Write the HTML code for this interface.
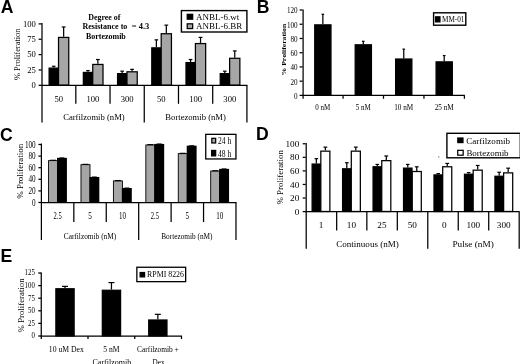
<!DOCTYPE html>
<html lang="en"><head><meta charset="utf-8"><title>Figure</title>
<style>
html,body{margin:0;padding:0;background:#fff;}
body{width:520px;height:364px;overflow:hidden;}
svg{display:block;}
</style></head>
<body>
<svg width="520" height="364" viewBox="0 0 520 364">
<rect x="0" y="0" width="520" height="364" fill="#fff"/>
<text x="0.8" y="12.6" font-family='"Liberation Sans",Arial,sans-serif' font-size="17.6" font-weight="bold">A</text>
<line x1="38.6" y1="85.3" x2="41.6" y2="85.3" stroke="#000" stroke-width="1.25"/>
<text x="35.8" y="88.14" font-family='"Liberation Serif","Times New Roman",serif' font-size="8.6" text-anchor="end">0</text>
<line x1="38.6" y1="69.95" x2="41.6" y2="69.95" stroke="#000" stroke-width="1.25"/>
<text x="35.8" y="72.79" font-family='"Liberation Serif","Times New Roman",serif' font-size="8.6" text-anchor="end">25</text>
<line x1="38.6" y1="54.6" x2="41.6" y2="54.6" stroke="#000" stroke-width="1.25"/>
<text x="35.8" y="57.44" font-family='"Liberation Serif","Times New Roman",serif' font-size="8.6" text-anchor="end">50</text>
<line x1="38.6" y1="39.25" x2="41.6" y2="39.25" stroke="#000" stroke-width="1.25"/>
<text x="35.8" y="42.09" font-family='"Liberation Serif","Times New Roman",serif' font-size="8.6" text-anchor="end">75</text>
<line x1="38.6" y1="23.9" x2="41.6" y2="23.9" stroke="#000" stroke-width="1.25"/>
<text x="35.8" y="26.74" font-family='"Liberation Serif","Times New Roman",serif' font-size="8.6" text-anchor="end">100</text>
<text x="0" y="2.64" transform="translate(17.6,54.3) rotate(-90)" font-family='"Liberation Serif","Times New Roman",serif' font-size="8" text-anchor="middle" textLength="51.5" lengthAdjust="spacingAndGlyphs">% Proliferation</text>
<rect x="49.12" y="68.12" width="9.15" height="17.06" fill="#000" stroke="#000" stroke-width="1.25"/>
<rect x="58.52" y="37.42" width="10.25" height="47.76" fill="#a6a6a6" stroke="#000" stroke-width="1.25"/>
<line x1="53.7" y1="66.27" x2="53.7" y2="67.49" stroke="#000" stroke-width="1.25"/>
<line x1="51.9" y1="66.27" x2="55.5" y2="66.27" stroke="#000" stroke-width="1.2"/>
<line x1="63.65" y1="26.97" x2="63.65" y2="36.79" stroke="#000" stroke-width="1.25"/>
<line x1="61.75" y1="26.97" x2="65.55" y2="26.97" stroke="#000" stroke-width="1.2"/>
<rect x="83.34" y="72.42" width="9.15" height="12.76" fill="#000" stroke="#000" stroke-width="1.25"/>
<rect x="92.75" y="64.44" width="10.25" height="20.74" fill="#a6a6a6" stroke="#000" stroke-width="1.25"/>
<line x1="87.92" y1="70.56" x2="87.92" y2="71.79" stroke="#000" stroke-width="1.25"/>
<line x1="86.12" y1="70.56" x2="89.72" y2="70.56" stroke="#000" stroke-width="1.2"/>
<line x1="97.87" y1="59.51" x2="97.87" y2="63.81" stroke="#000" stroke-width="1.25"/>
<line x1="95.97" y1="59.51" x2="99.77" y2="59.51" stroke="#000" stroke-width="1.2"/>
<rect x="117.56" y="73.64" width="9.15" height="11.53" fill="#000" stroke="#000" stroke-width="1.25"/>
<rect x="126.97" y="71.8" width="10.25" height="13.37" fill="#a6a6a6" stroke="#000" stroke-width="1.25"/>
<line x1="122.14" y1="71.18" x2="122.14" y2="73.02" stroke="#000" stroke-width="1.25"/>
<line x1="120.34" y1="71.18" x2="123.94" y2="71.18" stroke="#000" stroke-width="1.2"/>
<line x1="132.09" y1="69.34" x2="132.09" y2="71.18" stroke="#000" stroke-width="1.25"/>
<line x1="130.19" y1="69.34" x2="133.99" y2="69.34" stroke="#000" stroke-width="1.2"/>
<rect x="151.78" y="47.86" width="9.15" height="37.32" fill="#000" stroke="#000" stroke-width="1.25"/>
<rect x="161.19" y="33.73" width="10.25" height="51.44" fill="#a6a6a6" stroke="#000" stroke-width="1.25"/>
<line x1="156.36" y1="39.86" x2="156.36" y2="47.23" stroke="#000" stroke-width="1.25"/>
<line x1="154.56" y1="39.86" x2="158.16" y2="39.86" stroke="#000" stroke-width="1.2"/>
<line x1="166.31" y1="25.13" x2="166.31" y2="33.11" stroke="#000" stroke-width="1.25"/>
<line x1="164.41" y1="25.13" x2="168.21" y2="25.13" stroke="#000" stroke-width="1.2"/>
<rect x="186" y="62.59" width="9.15" height="22.58" fill="#000" stroke="#000" stroke-width="1.25"/>
<rect x="195.41" y="43.56" width="10.25" height="41.62" fill="#a6a6a6" stroke="#000" stroke-width="1.25"/>
<line x1="190.58" y1="59.51" x2="190.58" y2="61.97" stroke="#000" stroke-width="1.25"/>
<line x1="188.78" y1="59.51" x2="192.38" y2="59.51" stroke="#000" stroke-width="1.2"/>
<line x1="200.53" y1="37.41" x2="200.53" y2="42.93" stroke="#000" stroke-width="1.25"/>
<line x1="198.63" y1="37.41" x2="202.43" y2="37.41" stroke="#000" stroke-width="1.2"/>
<rect x="220.22" y="73.64" width="9.15" height="11.53" fill="#000" stroke="#000" stroke-width="1.25"/>
<rect x="229.62" y="58.3" width="10.25" height="26.88" fill="#a6a6a6" stroke="#000" stroke-width="1.25"/>
<line x1="224.8" y1="71.18" x2="224.8" y2="73.02" stroke="#000" stroke-width="1.25"/>
<line x1="223" y1="71.18" x2="226.6" y2="71.18" stroke="#000" stroke-width="1.2"/>
<line x1="234.75" y1="50.92" x2="234.75" y2="57.67" stroke="#000" stroke-width="1.25"/>
<line x1="232.85" y1="50.92" x2="236.65" y2="50.92" stroke="#000" stroke-width="1.2"/>
<line x1="42" y1="23" x2="42" y2="122.5" stroke="#000" stroke-width="1.25"/>
<line x1="41.1" y1="85.3" x2="247.4" y2="85.3" stroke="#000" stroke-width="1.25"/>
<line x1="75.82" y1="85.3" x2="75.82" y2="103.8" stroke="#000" stroke-width="1.25"/>
<line x1="110.04" y1="85.3" x2="110.04" y2="103.8" stroke="#000" stroke-width="1.25"/>
<line x1="144.26" y1="85.3" x2="144.26" y2="122.5" stroke="#000" stroke-width="1.25"/>
<line x1="178.48" y1="85.3" x2="178.48" y2="103.8" stroke="#000" stroke-width="1.25"/>
<line x1="212.7" y1="85.3" x2="212.7" y2="103.8" stroke="#000" stroke-width="1.25"/>
<line x1="246.92" y1="85.3" x2="246.92" y2="122.5" stroke="#000" stroke-width="1.25"/>
<text x="58.71" y="102.34" font-family='"Liberation Serif","Times New Roman",serif' font-size="8.6" text-anchor="middle">50</text>
<text x="92.93" y="102.34" font-family='"Liberation Serif","Times New Roman",serif' font-size="8.6" text-anchor="middle">100</text>
<text x="127.15" y="102.34" font-family='"Liberation Serif","Times New Roman",serif' font-size="8.6" text-anchor="middle">300</text>
<text x="161.37" y="102.34" font-family='"Liberation Serif","Times New Roman",serif' font-size="8.6" text-anchor="middle">50</text>
<text x="195.59" y="102.34" font-family='"Liberation Serif","Times New Roman",serif' font-size="8.6" text-anchor="middle">100</text>
<text x="229.81" y="102.34" font-family='"Liberation Serif","Times New Roman",serif' font-size="8.6" text-anchor="middle">300</text>
<text x="93.93" y="119.64" font-family='"Liberation Serif","Times New Roman",serif' font-size="8.6" text-anchor="middle" textLength="61.5" lengthAdjust="spacingAndGlyphs">Carfilzomib (nM)</text>
<text x="195.59" y="119.64" font-family='"Liberation Serif","Times New Roman",serif' font-size="8.6" text-anchor="middle" textLength="60.5" lengthAdjust="spacingAndGlyphs">Bortezomib (nM)</text>
<text x="104.35" y="20.17" font-family='"Liberation Serif","Times New Roman",serif' font-size="8.1" text-anchor="middle" textLength="32.2" lengthAdjust="spacingAndGlyphs" font-weight="bold">Degree of</text>
<text x="104.9" y="29.47" font-family='"Liberation Serif","Times New Roman",serif' font-size="8.1" text-anchor="middle" textLength="45" lengthAdjust="spacingAndGlyphs" font-weight="bold">Resistance to</text>
<text x="105.9" y="38.77" font-family='"Liberation Serif","Times New Roman",serif' font-size="8.1" text-anchor="middle" textLength="39.8" lengthAdjust="spacingAndGlyphs" font-weight="bold">Bortezomib</text>
<text x="140.5" y="29.47" font-family='"Liberation Serif","Times New Roman",serif' font-size="8.1" text-anchor="middle" textLength="17.5" lengthAdjust="spacingAndGlyphs" font-weight="bold">= 4.3</text>
<rect x="181.4" y="10.6" width="65.5" height="21.4" fill="#fff" stroke="#000" stroke-width="1.4"/>
<rect x="187.22" y="14.32" width="5.45" height="4.85" fill="#000" stroke="#000" stroke-width="1.25"/>
<rect x="187.22" y="23.82" width="5.45" height="4.75" fill="#a6a6a6" stroke="#000" stroke-width="1.25"/>
<text x="195.9" y="19.8" font-family='"Liberation Serif","Times New Roman",serif' font-size="9.1" text-anchor="start" textLength="43.3" lengthAdjust="spacingAndGlyphs">ANBL-6.wt</text>
<text x="195.9" y="29.3" font-family='"Liberation Serif","Times New Roman",serif' font-size="9.1" text-anchor="start" textLength="46.3" lengthAdjust="spacingAndGlyphs">ANBL-6.BR</text>
<text x="256.7" y="12.6" font-family='"Liberation Sans",Arial,sans-serif' font-size="17.6" font-weight="bold">B</text>
<line x1="299.6" y1="95.4" x2="302.6" y2="95.4" stroke="#000" stroke-width="1.25"/>
<text x="297.6" y="99.37" font-family='"Liberation Serif","Times New Roman",serif' font-size="9" text-anchor="end" textLength="3.55" lengthAdjust="spacingAndGlyphs">0</text>
<line x1="299.6" y1="81.17" x2="302.6" y2="81.17" stroke="#000" stroke-width="1.25"/>
<text x="297.6" y="84.54" font-family='"Liberation Serif","Times New Roman",serif' font-size="9" text-anchor="end" textLength="7.1" lengthAdjust="spacingAndGlyphs">20</text>
<line x1="299.6" y1="66.93" x2="302.6" y2="66.93" stroke="#000" stroke-width="1.25"/>
<text x="297.6" y="70.3" font-family='"Liberation Serif","Times New Roman",serif' font-size="9" text-anchor="end" textLength="7.1" lengthAdjust="spacingAndGlyphs">40</text>
<line x1="299.6" y1="52.7" x2="302.6" y2="52.7" stroke="#000" stroke-width="1.25"/>
<text x="297.6" y="56.07" font-family='"Liberation Serif","Times New Roman",serif' font-size="9" text-anchor="end" textLength="7.1" lengthAdjust="spacingAndGlyphs">60</text>
<line x1="299.6" y1="38.47" x2="302.6" y2="38.47" stroke="#000" stroke-width="1.25"/>
<text x="297.6" y="41.84" font-family='"Liberation Serif","Times New Roman",serif' font-size="9" text-anchor="end" textLength="7.1" lengthAdjust="spacingAndGlyphs">80</text>
<line x1="299.6" y1="24.23" x2="302.6" y2="24.23" stroke="#000" stroke-width="1.25"/>
<text x="297.6" y="27.6" font-family='"Liberation Serif","Times New Roman",serif' font-size="9" text-anchor="end" textLength="10.65" lengthAdjust="spacingAndGlyphs">100</text>
<line x1="299.6" y1="10" x2="302.6" y2="10" stroke="#000" stroke-width="1.25"/>
<text x="297.6" y="13.37" font-family='"Liberation Serif","Times New Roman",serif' font-size="9" text-anchor="end" textLength="10.65" lengthAdjust="spacingAndGlyphs">120</text>
<text x="0" y="2.31" transform="translate(283.9,49.6) rotate(-90)" font-family='"Liberation Serif","Times New Roman",serif' font-size="7" text-anchor="middle" textLength="51.6" lengthAdjust="spacingAndGlyphs" font-weight="bold">% Proliferation</text>
<rect x="314.73" y="24.86" width="16.25" height="70.42" fill="#000" stroke="#000" stroke-width="1.25"/>
<line x1="322.85" y1="14.27" x2="322.85" y2="24.23" stroke="#000" stroke-width="1.25"/>
<line x1="321.55" y1="14.27" x2="324.15" y2="14.27" stroke="#000" stroke-width="1.2"/>
<rect x="355.18" y="44.79" width="16.25" height="50.49" fill="#000" stroke="#000" stroke-width="1.25"/>
<line x1="363.3" y1="41.31" x2="363.3" y2="44.16" stroke="#000" stroke-width="1.25"/>
<line x1="362" y1="41.31" x2="364.6" y2="41.31" stroke="#000" stroke-width="1.2"/>
<rect x="395.62" y="59.02" width="16.25" height="36.26" fill="#000" stroke="#000" stroke-width="1.25"/>
<line x1="403.75" y1="49.14" x2="403.75" y2="58.39" stroke="#000" stroke-width="1.25"/>
<line x1="402.45" y1="49.14" x2="405.05" y2="49.14" stroke="#000" stroke-width="1.2"/>
<rect x="436.08" y="61.87" width="16.25" height="33.41" fill="#000" stroke="#000" stroke-width="1.25"/>
<line x1="444.2" y1="55.55" x2="444.2" y2="61.24" stroke="#000" stroke-width="1.25"/>
<line x1="442.9" y1="55.55" x2="445.5" y2="55.55" stroke="#000" stroke-width="1.2"/>
<line x1="303.1" y1="9.5" x2="303.1" y2="98.7" stroke="#000" stroke-width="1.25"/>
<line x1="302.1" y1="95.4" x2="464.9" y2="95.4" stroke="#000" stroke-width="1.25"/>
<line x1="343.05" y1="95.4" x2="343.05" y2="98.8" stroke="#000" stroke-width="1.25"/>
<line x1="383.5" y1="95.4" x2="383.5" y2="98.8" stroke="#000" stroke-width="1.25"/>
<line x1="423.95" y1="95.4" x2="423.95" y2="98.8" stroke="#000" stroke-width="1.25"/>
<line x1="464.4" y1="95.4" x2="464.4" y2="98.8" stroke="#000" stroke-width="1.25"/>
<text x="322.83" y="109.77" font-family='"Liberation Serif","Times New Roman",serif' font-size="9" text-anchor="middle" textLength="15" lengthAdjust="spacingAndGlyphs">0 nM</text>
<text x="363.28" y="109.77" font-family='"Liberation Serif","Times New Roman",serif' font-size="9" text-anchor="middle" textLength="15" lengthAdjust="spacingAndGlyphs">5 nM</text>
<text x="403.73" y="109.77" font-family='"Liberation Serif","Times New Roman",serif' font-size="9" text-anchor="middle" textLength="19" lengthAdjust="spacingAndGlyphs">10 nM</text>
<text x="444.18" y="109.77" font-family='"Liberation Serif","Times New Roman",serif' font-size="9" text-anchor="middle" textLength="19" lengthAdjust="spacingAndGlyphs">25 nM</text>
<rect x="433.6" y="12.8" width="32.2" height="12.4" fill="#fff" stroke="#000" stroke-width="1.4"/>
<rect x="435.62" y="16.82" width="4.35" height="5.05" fill="#000" stroke="#000" stroke-width="1.25"/>
<text x="442" y="22.47" font-family='"Liberation Serif","Times New Roman",serif' font-size="9" text-anchor="start" textLength="22.5" lengthAdjust="spacingAndGlyphs">MM-01</text>
<text x="0" y="140.8" font-family='"Liberation Sans",Arial,sans-serif' font-size="17.6" font-weight="bold">C</text>
<line x1="38.4" y1="202.5" x2="41.4" y2="202.5" stroke="#000" stroke-width="1.25"/>
<text x="35.7" y="205.57" font-family='"Liberation Serif","Times New Roman",serif' font-size="9.3" text-anchor="end" textLength="3.6" lengthAdjust="spacingAndGlyphs">0</text>
<line x1="38.4" y1="190.9" x2="41.4" y2="190.9" stroke="#000" stroke-width="1.25"/>
<text x="35.7" y="193.97" font-family='"Liberation Serif","Times New Roman",serif' font-size="9.3" text-anchor="end" textLength="7.2" lengthAdjust="spacingAndGlyphs">20</text>
<line x1="38.4" y1="179.3" x2="41.4" y2="179.3" stroke="#000" stroke-width="1.25"/>
<text x="35.7" y="182.37" font-family='"Liberation Serif","Times New Roman",serif' font-size="9.3" text-anchor="end" textLength="7.2" lengthAdjust="spacingAndGlyphs">40</text>
<line x1="38.4" y1="167.7" x2="41.4" y2="167.7" stroke="#000" stroke-width="1.25"/>
<text x="35.7" y="170.77" font-family='"Liberation Serif","Times New Roman",serif' font-size="9.3" text-anchor="end" textLength="7.2" lengthAdjust="spacingAndGlyphs">60</text>
<line x1="38.4" y1="156.1" x2="41.4" y2="156.1" stroke="#000" stroke-width="1.25"/>
<text x="35.7" y="159.17" font-family='"Liberation Serif","Times New Roman",serif' font-size="9.3" text-anchor="end" textLength="7.2" lengthAdjust="spacingAndGlyphs">80</text>
<line x1="38.4" y1="144.5" x2="41.4" y2="144.5" stroke="#000" stroke-width="1.25"/>
<text x="35.7" y="147.57" font-family='"Liberation Serif","Times New Roman",serif' font-size="9.3" text-anchor="end" textLength="10.8" lengthAdjust="spacingAndGlyphs">100</text>
<text x="0" y="2.44" transform="translate(21,171.3) rotate(-90)" font-family='"Liberation Serif","Times New Roman",serif' font-size="7.4" text-anchor="middle" textLength="55" lengthAdjust="spacingAndGlyphs">% Proliferation</text>
<rect x="48.55" y="160.61" width="9" height="41.94" fill="#a6a6a6" stroke="#000" stroke-width="0.9"/>
<rect x="57.62" y="158.47" width="8.65" height="43.91" fill="#000" stroke="#000" stroke-width="1.25"/>
<line x1="50.1" y1="160.26" x2="56" y2="160.26" stroke="#000" stroke-width="1.1"/>
<line x1="59.5" y1="157.74" x2="64.4" y2="157.74" stroke="#000" stroke-width="0.8"/>
<rect x="80.98" y="164.67" width="9" height="37.88" fill="#a6a6a6" stroke="#000" stroke-width="0.9"/>
<rect x="90.06" y="177.6" width="8.65" height="24.77" fill="#000" stroke="#000" stroke-width="1.25"/>
<line x1="82.53" y1="164.32" x2="88.43" y2="164.32" stroke="#000" stroke-width="1.1"/>
<line x1="91.93" y1="176.88" x2="96.83" y2="176.88" stroke="#000" stroke-width="0.8"/>
<rect x="113.41" y="180.91" width="9" height="21.64" fill="#a6a6a6" stroke="#000" stroke-width="0.9"/>
<rect x="122.48" y="188.62" width="8.65" height="13.75" fill="#000" stroke="#000" stroke-width="1.25"/>
<line x1="114.96" y1="180.56" x2="120.86" y2="180.56" stroke="#000" stroke-width="1.1"/>
<line x1="124.36" y1="187.9" x2="129.26" y2="187.9" stroke="#000" stroke-width="0.8"/>
<rect x="145.84" y="144.95" width="9" height="57.6" fill="#a6a6a6" stroke="#000" stroke-width="0.9"/>
<rect x="154.91" y="144.55" width="8.65" height="57.83" fill="#000" stroke="#000" stroke-width="1.25"/>
<line x1="147.39" y1="144.6" x2="153.29" y2="144.6" stroke="#000" stroke-width="1.1"/>
<line x1="156.79" y1="143.82" x2="161.69" y2="143.82" stroke="#000" stroke-width="0.8"/>
<rect x="178.27" y="153.65" width="9" height="48.9" fill="#a6a6a6" stroke="#000" stroke-width="0.9"/>
<rect x="187.34" y="146.28" width="8.65" height="56.09" fill="#000" stroke="#000" stroke-width="1.25"/>
<line x1="179.82" y1="153.3" x2="185.72" y2="153.3" stroke="#000" stroke-width="1.1"/>
<line x1="189.22" y1="145.56" x2="194.12" y2="145.56" stroke="#000" stroke-width="0.8"/>
<rect x="210.7" y="171.05" width="9" height="31.5" fill="#a6a6a6" stroke="#000" stroke-width="0.9"/>
<rect x="219.78" y="169.49" width="8.65" height="32.89" fill="#000" stroke="#000" stroke-width="1.25"/>
<line x1="212.25" y1="170.7" x2="218.15" y2="170.7" stroke="#000" stroke-width="1.1"/>
<line x1="221.65" y1="168.76" x2="226.55" y2="168.76" stroke="#000" stroke-width="0.8"/>
<line x1="41.4" y1="143.5" x2="41.4" y2="240" stroke="#000" stroke-width="1.25"/>
<line x1="40.9" y1="202.5" x2="236.5" y2="202.5" stroke="#000" stroke-width="1.25"/>
<line x1="73.83" y1="202.5" x2="73.83" y2="222" stroke="#000" stroke-width="1.25"/>
<line x1="106.26" y1="202.5" x2="106.26" y2="222" stroke="#000" stroke-width="1.25"/>
<line x1="138.69" y1="202.5" x2="138.69" y2="240" stroke="#000" stroke-width="1.25"/>
<line x1="171.12" y1="202.5" x2="171.12" y2="222" stroke="#000" stroke-width="1.25"/>
<line x1="203.55" y1="202.5" x2="203.55" y2="222" stroke="#000" stroke-width="1.25"/>
<line x1="235.98" y1="202.5" x2="235.98" y2="240" stroke="#000" stroke-width="1.25"/>
<text x="57.61" y="219.37" font-family='"Liberation Serif","Times New Roman",serif' font-size="9.3" text-anchor="middle" textLength="8.2" lengthAdjust="spacingAndGlyphs">2.5</text>
<text x="90.04" y="219.37" font-family='"Liberation Serif","Times New Roman",serif' font-size="9.3" text-anchor="middle" textLength="3.6" lengthAdjust="spacingAndGlyphs">5</text>
<text x="122.47" y="219.37" font-family='"Liberation Serif","Times New Roman",serif' font-size="9.3" text-anchor="middle" textLength="7" lengthAdjust="spacingAndGlyphs">10</text>
<text x="154.91" y="219.37" font-family='"Liberation Serif","Times New Roman",serif' font-size="9.3" text-anchor="middle" textLength="8.2" lengthAdjust="spacingAndGlyphs">2.5</text>
<text x="187.34" y="219.37" font-family='"Liberation Serif","Times New Roman",serif' font-size="9.3" text-anchor="middle" textLength="3.6" lengthAdjust="spacingAndGlyphs">5</text>
<text x="219.77" y="219.37" font-family='"Liberation Serif","Times New Roman",serif' font-size="9.3" text-anchor="middle" textLength="7" lengthAdjust="spacingAndGlyphs">10</text>
<text x="90" y="238.54" font-family='"Liberation Serif","Times New Roman",serif' font-size="9.2" text-anchor="middle" textLength="52.5" lengthAdjust="spacingAndGlyphs">Carfilzomib (nM)</text>
<text x="186.9" y="238.54" font-family='"Liberation Serif","Times New Roman",serif' font-size="9.2" text-anchor="middle" textLength="51.3" lengthAdjust="spacingAndGlyphs">Bortezomib (nM)</text>
<rect x="205.75" y="134.35" width="30.2" height="24.6" fill="#fff" stroke="#000" stroke-width="1.3"/>
<rect x="211.82" y="138.32" width="3.85" height="4.65" fill="#a6a6a6" stroke="#000" stroke-width="1.25"/>
<rect x="211.62" y="150.43" width="4.05" height="5.45" fill="#000" stroke="#000" stroke-width="1.25"/>
<text x="218" y="143.87" font-family='"Liberation Serif","Times New Roman",serif' font-size="9.3" text-anchor="start" textLength="13.2" lengthAdjust="spacingAndGlyphs">24 h</text>
<text x="218" y="156.57" font-family='"Liberation Serif","Times New Roman",serif' font-size="9.3" text-anchor="start" textLength="13.2" lengthAdjust="spacingAndGlyphs">48 h</text>
<text x="256" y="140.4" font-family='"Liberation Sans",Arial,sans-serif' font-size="17.6" font-weight="bold">D</text>
<line x1="302.7" y1="211.6" x2="305.7" y2="211.6" stroke="#000" stroke-width="1.25"/>
<text x="299.3" y="214.64" font-family='"Liberation Serif","Times New Roman",serif' font-size="9.2" text-anchor="end">0</text>
<line x1="302.7" y1="198.03" x2="305.7" y2="198.03" stroke="#000" stroke-width="1.25"/>
<text x="299.3" y="201.07" font-family='"Liberation Serif","Times New Roman",serif' font-size="9.2" text-anchor="end">20</text>
<line x1="302.7" y1="184.46" x2="305.7" y2="184.46" stroke="#000" stroke-width="1.25"/>
<text x="299.3" y="187.5" font-family='"Liberation Serif","Times New Roman",serif' font-size="9.2" text-anchor="end">40</text>
<line x1="302.7" y1="170.89" x2="305.7" y2="170.89" stroke="#000" stroke-width="1.25"/>
<text x="299.3" y="173.93" font-family='"Liberation Serif","Times New Roman",serif' font-size="9.2" text-anchor="end">60</text>
<line x1="302.7" y1="157.32" x2="305.7" y2="157.32" stroke="#000" stroke-width="1.25"/>
<text x="299.3" y="160.36" font-family='"Liberation Serif","Times New Roman",serif' font-size="9.2" text-anchor="end">80</text>
<line x1="302.7" y1="143.75" x2="305.7" y2="143.75" stroke="#000" stroke-width="1.25"/>
<text x="299.3" y="146.79" font-family='"Liberation Serif","Times New Roman",serif' font-size="9.2" text-anchor="end">100</text>
<text x="0" y="2.97" transform="translate(279.8,177.3) rotate(-90)" font-family='"Liberation Serif","Times New Roman",serif' font-size="9" text-anchor="middle" textLength="54.5" lengthAdjust="spacingAndGlyphs">% Proliferation</text>
<rect x="312.12" y="164.05" width="8.45" height="47.42" fill="#000" stroke="#000" stroke-width="1.25"/>
<rect x="320.82" y="151.16" width="9.05" height="60.31" fill="#fff" stroke="#000" stroke-width="1.25"/>
<line x1="316.35" y1="158.68" x2="316.35" y2="163.43" stroke="#000" stroke-width="1.25"/>
<line x1="314.55" y1="158.68" x2="318.15" y2="158.68" stroke="#000" stroke-width="1.2"/>
<line x1="325.35" y1="147.14" x2="325.35" y2="150.53" stroke="#000" stroke-width="1.25"/>
<line x1="323.45" y1="147.14" x2="327.25" y2="147.14" stroke="#000" stroke-width="1.2"/>
<rect x="342.59" y="168.8" width="8.45" height="42.67" fill="#000" stroke="#000" stroke-width="1.25"/>
<rect x="351.29" y="151.16" width="9.05" height="60.31" fill="#fff" stroke="#000" stroke-width="1.25"/>
<line x1="346.82" y1="162.75" x2="346.82" y2="168.18" stroke="#000" stroke-width="1.25"/>
<line x1="345.02" y1="162.75" x2="348.62" y2="162.75" stroke="#000" stroke-width="1.2"/>
<line x1="355.82" y1="147.14" x2="355.82" y2="150.53" stroke="#000" stroke-width="1.25"/>
<line x1="353.92" y1="147.14" x2="357.72" y2="147.14" stroke="#000" stroke-width="1.2"/>
<rect x="373.06" y="166.77" width="8.45" height="44.71" fill="#000" stroke="#000" stroke-width="1.25"/>
<rect x="381.76" y="160.66" width="9.05" height="50.82" fill="#fff" stroke="#000" stroke-width="1.25"/>
<line x1="377.29" y1="164.44" x2="377.29" y2="166.14" stroke="#000" stroke-width="1.25"/>
<line x1="375.49" y1="164.44" x2="379.09" y2="164.44" stroke="#000" stroke-width="1.2"/>
<line x1="386.29" y1="155.96" x2="386.29" y2="160.03" stroke="#000" stroke-width="1.25"/>
<line x1="384.39" y1="155.96" x2="388.19" y2="155.96" stroke="#000" stroke-width="1.2"/>
<rect x="403.54" y="168.12" width="8.45" height="43.35" fill="#000" stroke="#000" stroke-width="1.25"/>
<rect x="412.24" y="171.51" width="9.05" height="39.96" fill="#fff" stroke="#000" stroke-width="1.25"/>
<line x1="407.76" y1="164.44" x2="407.76" y2="167.5" stroke="#000" stroke-width="1.25"/>
<line x1="405.96" y1="164.44" x2="409.56" y2="164.44" stroke="#000" stroke-width="1.2"/>
<line x1="416.76" y1="166.82" x2="416.76" y2="170.89" stroke="#000" stroke-width="1.25"/>
<line x1="414.86" y1="166.82" x2="418.66" y2="166.82" stroke="#000" stroke-width="1.2"/>
<rect x="434" y="174.91" width="8.45" height="36.57" fill="#000" stroke="#000" stroke-width="1.25"/>
<rect x="442.7" y="166.77" width="9.05" height="44.71" fill="#fff" stroke="#000" stroke-width="1.25"/>
<line x1="438.23" y1="173.6" x2="438.23" y2="174.28" stroke="#000" stroke-width="1.25"/>
<line x1="436.43" y1="173.6" x2="440.03" y2="173.6" stroke="#000" stroke-width="1.2"/>
<line x1="447.23" y1="163.43" x2="447.23" y2="166.14" stroke="#000" stroke-width="1.25"/>
<line x1="445.33" y1="163.43" x2="449.13" y2="163.43" stroke="#000" stroke-width="1.2"/>
<rect x="464.47" y="174.23" width="8.45" height="37.25" fill="#000" stroke="#000" stroke-width="1.25"/>
<rect x="473.17" y="170.16" width="9.05" height="41.32" fill="#fff" stroke="#000" stroke-width="1.25"/>
<line x1="468.7" y1="172.59" x2="468.7" y2="173.6" stroke="#000" stroke-width="1.25"/>
<line x1="466.9" y1="172.59" x2="470.5" y2="172.59" stroke="#000" stroke-width="1.2"/>
<line x1="477.7" y1="165.46" x2="477.7" y2="169.53" stroke="#000" stroke-width="1.25"/>
<line x1="475.8" y1="165.46" x2="479.6" y2="165.46" stroke="#000" stroke-width="1.2"/>
<rect x="494.94" y="176.26" width="8.45" height="35.21" fill="#000" stroke="#000" stroke-width="1.25"/>
<rect x="503.64" y="172.87" width="9.05" height="38.6" fill="#fff" stroke="#000" stroke-width="1.25"/>
<line x1="499.17" y1="172.25" x2="499.17" y2="175.64" stroke="#000" stroke-width="1.25"/>
<line x1="497.37" y1="172.25" x2="500.97" y2="172.25" stroke="#000" stroke-width="1.2"/>
<line x1="508.17" y1="168.18" x2="508.17" y2="172.25" stroke="#000" stroke-width="1.25"/>
<line x1="506.27" y1="168.18" x2="510.07" y2="168.18" stroke="#000" stroke-width="1.2"/>
<line x1="306.2" y1="143" x2="306.2" y2="248.8" stroke="#000" stroke-width="1.25"/>
<line x1="305.2" y1="211.6" x2="519.5" y2="211.6" stroke="#000" stroke-width="1.25"/>
<line x1="336.67" y1="211.6" x2="336.67" y2="230.5" stroke="#000" stroke-width="1.25"/>
<line x1="366.84" y1="211.6" x2="366.84" y2="230.5" stroke="#000" stroke-width="1.25"/>
<line x1="397.31" y1="211.6" x2="397.31" y2="230.5" stroke="#000" stroke-width="1.25"/>
<line x1="427.78" y1="211.6" x2="427.78" y2="248.8" stroke="#000" stroke-width="1.25"/>
<line x1="458.25" y1="211.6" x2="458.25" y2="230.5" stroke="#000" stroke-width="1.25"/>
<line x1="488.72" y1="211.6" x2="488.72" y2="230.5" stroke="#000" stroke-width="1.25"/>
<line x1="519.19" y1="211.6" x2="519.19" y2="248.8" stroke="#000" stroke-width="1.25"/>
<text x="320.94" y="228.04" font-family='"Liberation Serif","Times New Roman",serif' font-size="9.2" text-anchor="middle">1</text>
<text x="351.4" y="228.04" font-family='"Liberation Serif","Times New Roman",serif' font-size="9.2" text-anchor="middle">10</text>
<text x="381.88" y="228.04" font-family='"Liberation Serif","Times New Roman",serif' font-size="9.2" text-anchor="middle">25</text>
<text x="412.34" y="228.04" font-family='"Liberation Serif","Times New Roman",serif' font-size="9.2" text-anchor="middle">50</text>
<text x="444.31" y="228.04" font-family='"Liberation Serif","Times New Roman",serif' font-size="9.2" text-anchor="middle">0</text>
<text x="473.28" y="228.04" font-family='"Liberation Serif","Times New Roman",serif' font-size="9.2" text-anchor="middle">100</text>
<text x="503.75" y="228.04" font-family='"Liberation Serif","Times New Roman",serif' font-size="9.2" text-anchor="middle">300</text>
<text x="367.5" y="246.77" font-family='"Liberation Serif","Times New Roman",serif' font-size="9" text-anchor="middle" textLength="62.5" lengthAdjust="spacingAndGlyphs">Continuous (nM)</text>
<text x="473.1" y="246.77" font-family='"Liberation Serif","Times New Roman",serif' font-size="9" text-anchor="middle" textLength="41.3" lengthAdjust="spacingAndGlyphs">Pulse (nM)</text>
<rect x="446.9" y="133.3" width="73.4" height="24.5" fill="#fff" stroke="#000" stroke-width="1.4"/>
<rect x="457.82" y="138.03" width="5.15" height="4.55" fill="#000" stroke="#000" stroke-width="1.25"/>
<rect x="457.73" y="150.32" width="5.45" height="4.85" fill="#fff" stroke="#000" stroke-width="1.25"/>
<text x="466.2" y="143.87" font-family='"Liberation Serif","Times New Roman",serif' font-size="9" text-anchor="start" textLength="43.8" lengthAdjust="spacingAndGlyphs">Carfilzomib</text>
<text x="466.4" y="155.77" font-family='"Liberation Serif","Times New Roman",serif' font-size="9" text-anchor="start" textLength="42.2" lengthAdjust="spacingAndGlyphs">Bortezomib</text>
<circle cx="438.8" cy="157" r="0.7" fill="#777"/>
<text x="0.6" y="261.6" font-family='"Liberation Sans",Arial,sans-serif' font-size="17.6" font-weight="bold">E</text>
<line x1="38.25" y1="336" x2="41.25" y2="336" stroke="#000" stroke-width="1.25"/>
<text x="34.8" y="337.77" font-family='"Liberation Serif","Times New Roman",serif' font-size="9" text-anchor="end" textLength="3.4" lengthAdjust="spacingAndGlyphs">0</text>
<line x1="38.25" y1="323.4" x2="41.25" y2="323.4" stroke="#000" stroke-width="1.25"/>
<text x="34.8" y="325.87" font-family='"Liberation Serif","Times New Roman",serif' font-size="9" text-anchor="end" textLength="6.8" lengthAdjust="spacingAndGlyphs">25</text>
<line x1="38.25" y1="310.8" x2="41.25" y2="310.8" stroke="#000" stroke-width="1.25"/>
<text x="34.8" y="313.27" font-family='"Liberation Serif","Times New Roman",serif' font-size="9" text-anchor="end" textLength="6.8" lengthAdjust="spacingAndGlyphs">50</text>
<line x1="38.25" y1="298.2" x2="41.25" y2="298.2" stroke="#000" stroke-width="1.25"/>
<text x="34.8" y="300.67" font-family='"Liberation Serif","Times New Roman",serif' font-size="9" text-anchor="end" textLength="6.8" lengthAdjust="spacingAndGlyphs">75</text>
<line x1="38.25" y1="285.6" x2="41.25" y2="285.6" stroke="#000" stroke-width="1.25"/>
<text x="34.8" y="288.07" font-family='"Liberation Serif","Times New Roman",serif' font-size="9" text-anchor="end" textLength="10.2" lengthAdjust="spacingAndGlyphs">100</text>
<line x1="38.25" y1="273" x2="41.25" y2="273" stroke="#000" stroke-width="1.25"/>
<text x="34.8" y="275.47" font-family='"Liberation Serif","Times New Roman",serif' font-size="9" text-anchor="end" textLength="10.2" lengthAdjust="spacingAndGlyphs">125</text>
<text x="0" y="2.51" transform="translate(21.3,305.4) rotate(-90)" font-family='"Liberation Serif","Times New Roman",serif' font-size="7.6" text-anchor="middle" textLength="54" lengthAdjust="spacingAndGlyphs">% Proliferation</text>
<rect x="55.88" y="288.75" width="18.25" height="47.13" fill="#000" stroke="#000" stroke-width="1.25"/>
<line x1="65" y1="286.36" x2="65" y2="288.12" stroke="#000" stroke-width="1.25"/>
<line x1="62" y1="286.36" x2="68" y2="286.36" stroke="#000" stroke-width="1.2"/>
<rect x="102.33" y="290.26" width="18.25" height="45.62" fill="#000" stroke="#000" stroke-width="1.25"/>
<line x1="111.45" y1="282.58" x2="111.45" y2="289.63" stroke="#000" stroke-width="1.25"/>
<line x1="108.45" y1="282.58" x2="114.45" y2="282.58" stroke="#000" stroke-width="1.2"/>
<rect x="148.72" y="319.99" width="18.25" height="15.88" fill="#000" stroke="#000" stroke-width="1.25"/>
<line x1="157.85" y1="314.33" x2="157.85" y2="319.37" stroke="#000" stroke-width="1.25"/>
<line x1="154.85" y1="314.33" x2="160.85" y2="314.33" stroke="#000" stroke-width="1.2"/>
<line x1="41.25" y1="272.5" x2="41.25" y2="338.9" stroke="#000" stroke-width="1.25"/>
<line x1="40.75" y1="336" x2="182" y2="336" stroke="#000" stroke-width="1.25"/>
<line x1="88" y1="336" x2="88" y2="339" stroke="#000" stroke-width="1.25"/>
<line x1="134.75" y1="336" x2="134.75" y2="339" stroke="#000" stroke-width="1.25"/>
<line x1="181.5" y1="336" x2="181.5" y2="339" stroke="#000" stroke-width="1.25"/>
<text x="66.3" y="351.77" font-family='"Liberation Serif","Times New Roman",serif' font-size="9" text-anchor="middle" textLength="35" lengthAdjust="spacingAndGlyphs">10 uM Dex</text>
<text x="111.4" y="351.77" font-family='"Liberation Serif","Times New Roman",serif' font-size="9" text-anchor="middle" textLength="16.3" lengthAdjust="spacingAndGlyphs">5 nM</text>
<text x="111.9" y="364.57" font-family='"Liberation Serif","Times New Roman",serif' font-size="9" text-anchor="middle" textLength="38.8" lengthAdjust="spacingAndGlyphs">Carfilzomib</text>
<text x="157.9" y="351.77" font-family='"Liberation Serif","Times New Roman",serif' font-size="9" text-anchor="middle" textLength="41.8" lengthAdjust="spacingAndGlyphs">Carfilzomib +</text>
<text x="158.5" y="364.57" font-family='"Liberation Serif","Times New Roman",serif' font-size="9" text-anchor="middle" textLength="12" lengthAdjust="spacingAndGlyphs">Dex</text>
<rect x="136.85" y="267.25" width="48.8" height="14.4" fill="#fff" stroke="#000" stroke-width="1.3"/>
<rect x="140.12" y="272.52" width="4.45" height="4.35" fill="#000" stroke="#000" stroke-width="1.25"/>
<text x="147.1" y="277.47" font-family='"Liberation Serif","Times New Roman",serif' font-size="9" text-anchor="start" textLength="36.8" lengthAdjust="spacingAndGlyphs">RPMI 8226</text>
</svg>
</body></html>
